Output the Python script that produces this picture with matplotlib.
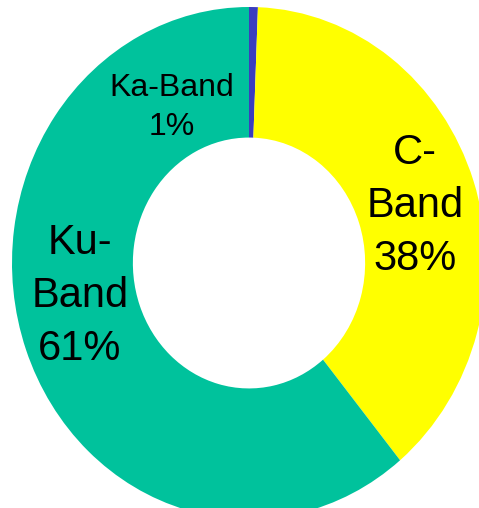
import matplotlib.pyplot as plt

bands = ['Ka-Band', 'C-\nBand', 'Ku-\nBand']
shares = [0.6, 38.4, 61.0]
colors = ['#3a3dbf', '#ffff00', '#00c29c']

# label anchor points (data coords of the ring), font sizes
label_pos = [(-0.325, 0.607), (0.70, 0.222), (-0.713, -0.128)]
label_size = [23, 30, 30]

plt.rcParams['font.family'] = ['Liberation Sans', 'DejaVu Sans']

fig = plt.figure(figsize=(4.79, 5.08), dpi=100)
# ring is slightly taller than wide in the reference, so the axes are stretched
ax = fig.add_axes([12 / 479, (508 - 519) / 508, 474 / 479, 512 / 508])

ax.pie(shares, colors=colors, startangle=90, counterclock=False,
       radius=1.0, wedgeprops=dict(width=0.51, linewidth=0))
ax.set_aspect('auto')
ax.set_xlim(-1, 1)
ax.set_ylim(-1, 1)
ax.axis('off')

for name, val, (x, y), fs in zip(bands, shares, label_pos, label_size):
    ax.text(x, y, f'{name}\n{round(val)}%', ha='center', va='center',
            fontsize=fs, color='black', linespacing=1.42)

fig.savefig('out.png', dpi=100)
